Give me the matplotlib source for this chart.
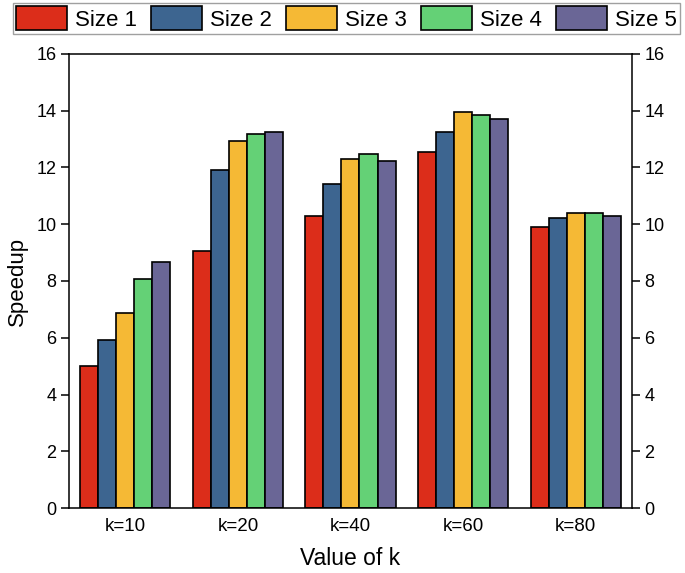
import numpy as np
import matplotlib
matplotlib.use("Agg")
import matplotlib.pyplot as plt

plt.rcParams['font.family'] = ['Liberation Sans', 'DejaVu Sans']

# speedup for each k, one list per problem size
groups = ["k=10", "k=20", "k=40", "k=60", "k=80"]
size1 = [5.00, 9.07, 10.29, 12.56, 9.91]
size2 = [5.92, 11.91, 11.43, 13.24, 10.21]
size3 = [6.86, 12.93, 12.29, 13.96, 10.41]
size4 = [8.07, 13.19, 12.48, 13.84, 10.41]
size5 = [8.68, 13.25, 12.24, 13.71, 10.30]
labels = ["Size 1", "Size 2", "Size 3", "Size 4", "Size 5"]
colors = ["#DC2D1A", "#3D6590", "#F5B935", "#64D176", "#6A6696"]

series = [size1, size2, size3, size4, size5]

fig = plt.figure(figsize=(6.85, 5.73), dpi=100)
ax = fig.add_axes([0.1007, 0.1134, 0.8219, 0.7924])

x = np.arange(len(groups))
w = 0.16
for i, (vals, lab, col) in enumerate(zip(series, labels, colors)):
    ax.bar(x + (i - 2) * w, vals, width=w, color=col, edgecolor="black",
           linewidth=1.2, label=lab, zorder=2)

ax.set_xlim(-0.5, len(groups) - 0.5)
ax.set_ylim(0, 16)
ax.set_yticks(np.arange(0, 17, 2))
ax.set_xticks(x)
ax.set_xticklabels(groups, fontsize=13.5)
ax.tick_params(axis="x", length=0, pad=7)
ax.tick_params(axis="y", direction="out", length=6, width=1.1, labelsize=13,
               right=True, labelright=True, pad=3)
for sp in ax.spines.values():
    sp.set_linewidth(1.1)

ax.set_xlabel("Value of k", fontsize=16.5, labelpad=9)
ax.set_ylabel("Speedup", fontsize=16, labelpad=6)

handles, labs = ax.get_legend_handles_labels()
leg = fig.legend(handles, labs, loc="upper left", bbox_to_anchor=(0.019, 0.995),
                 ncol=5, fontsize=16, frameon=True, fancybox=False,
                 handlelength=2.3, handleheight=1.3, handletextpad=0.36,
                 columnspacing=0.62, borderpad=0.15, borderaxespad=0)
leg.get_frame().set_edgecolor("#888888")
leg.get_frame().set_linewidth(1.0)

fig.savefig("out.png", dpi=100)
